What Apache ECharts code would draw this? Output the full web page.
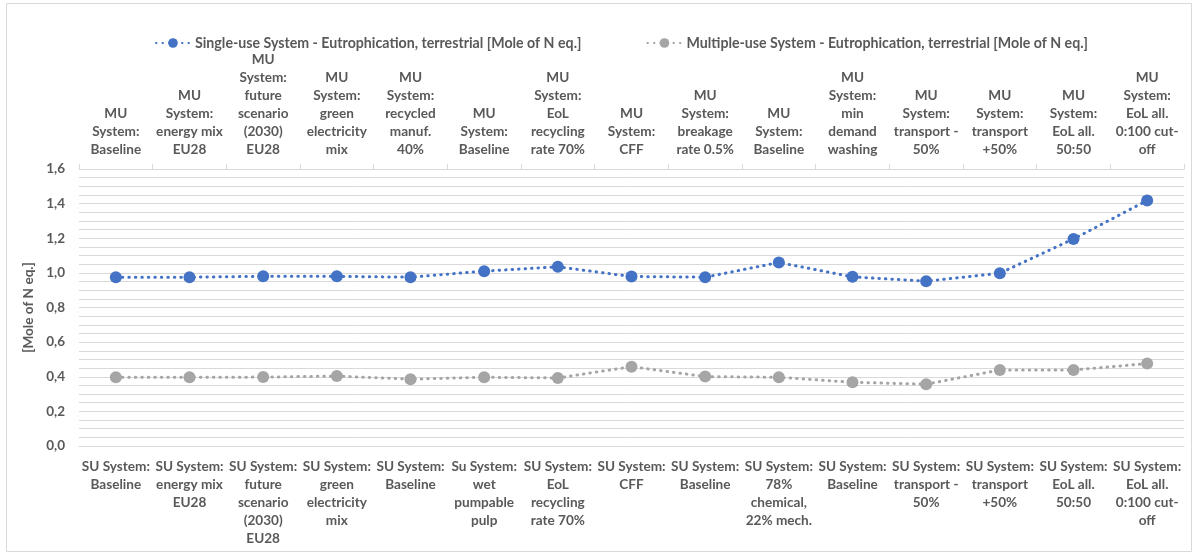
<!DOCTYPE html>
<html><head><meta charset="utf-8">
<script src="https://cdn.jsdelivr.net/npm/echarts@6/dist/echarts.min.js"></script>
<style>html,body{margin:0;padding:0;background:#fff}#c{width:1198px;height:555px}</style>
</head><body><div id="c"></div>
<script>
const suLabels = [
  "SU System:\nBaseline",
  "SU System:\nenergy mix\nEU28",
  "SU System:\nfuture\nscenario\n(2030)\nEU28",
  "SU System:\ngreen\nelectricity\nmix",
  "SU System:\nBaseline",
  "Su System:\nwet\npumpable\npulp",
  "SU System:\nEoL\nrecycling\nrate 70%",
  "SU System:\nCFF",
  "SU System:\nBaseline",
  "SU System:\n78%\nchemical,\n22% mech.",
  "SU System:\nBaseline",
  "SU System:\ntransport -\n50%",
  "SU System:\ntransport\n+50%",
  "SU System:\nEoL all.\n50:50",
  "SU System:\nEoL all.\n0:100 cut-\noff"
];
const muLabels = [
  "MU\nSystem:\nBaseline",
  "MU\nSystem:\nenergy mix\nEU28",
  "MU\nSystem:\nfuture\nscenario\n(2030)\nEU28",
  "MU\nSystem:\ngreen\nelectricity\nmix",
  "MU\nSystem:\nrecycled\nmanuf.\n40%",
  "MU\nSystem:\nBaseline",
  "MU\nSystem:\nEoL\nrecycling\nrate 70%",
  "MU\nSystem:\nCFF",
  "MU\nSystem:\nbreakage\nrate 0.5%",
  "MU\nSystem:\nBaseline",
  "MU\nSystem:\nmin\ndemand\nwashing",
  "MU\nSystem:\ntransport -\n50%",
  "MU\nSystem:\ntransport\n+50%",
  "MU\nSystem:\nEoL all.\n50:50",
  "MU\nSystem:\nEoL all.\n0:100 cut-\noff"
];
const singleUse = [0.975, 0.975, 0.980, 0.980, 0.975, 1.010, 1.035, 0.979, 0.975, 1.060, 0.977, 0.952, 0.998, 1.196, 1.418];
const multipleUse = [0.397, 0.397, 0.398, 0.404, 0.386, 0.397, 0.393, 0.458, 0.401, 0.397, 0.368, 0.357, 0.439, 0.439, 0.476];
const yTicks = [0, 0.2, 0.4, 0.6, 0.8, 1.0, 1.2, 1.4, 1.6];

const FONT = "Lato";
const TXT = "#595959";
const GRID = "#d9d9d9";
const chart = echarts.init(document.getElementById('c'), null, {renderer: 'canvas'});
chart.setOption({
  animation: false,
  textStyle: {fontFamily: FONT},
  graphic: [{type: 'rect', shape: {x: 6.5, y: 3.5, width: 1185, height: 548}, style: {fill: 'none', stroke: GRID, lineWidth: 1}, silent: true}],
  legend: {
    top: 31, left: 150, itemGap: 65, itemWidth: 34, itemHeight: 12,
    textStyle: {color: TXT, fontWeight: 'bold', fontSize: 14.2, fontFamily: FONT},
    data: ['Single-use System - Eutrophication, terrestrial [Mole of N eq.]', 'Multiple-use System - Eutrophication, terrestrial [Mole of N eq.]']
  },
  grid: {left: 79, right: 14, top: 169, bottom: 109},
  xAxis: [
    {type: 'category', position: 'bottom', data: suLabels, boundaryGap: true,
     axisLine: {show: true, lineStyle: {color: GRID}}, axisTick: {show: false},
     axisLabel: {interval: 0, color: TXT, fontWeight: 'bold', fontSize: 13.6, lineHeight: 18, margin: 12, fontFamily: FONT}},
    {type: 'category', position: 'top', data: muLabels, boundaryGap: true,
     axisLine: {show: true, lineStyle: {color: GRID}}, axisTick: {show: true, length: 5, lineStyle: {color: GRID}},
     axisLabel: {interval: 0, color: TXT, fontWeight: 'bold', fontSize: 13.6, lineHeight: 18, margin: 10, fontFamily: FONT}}
  ],
  yAxis: {
    type: 'value', min: 0, max: 1.6, interval: 0.2,
    name: '[Mole of N eq.]', nameLocation: 'middle', nameGap: 35, nameRotate: 90,
    nameTextStyle: {color: TXT, fontWeight: 'bold', fontSize: 13.6, fontFamily: FONT},
    axisLine: {show: false}, axisTick: {show: false},
    axisLabel: {color: TXT, fontWeight: 'bold', fontSize: 13.5, margin: 14, fontFamily: FONT,
      formatter: v => { const t = yTicks.find(x => Math.abs(x - v) < 1e-6); return (t !== undefined ? t : v).toFixed(1).replace('.', ','); }},
    splitLine: {show: true, lineStyle: {color: GRID, width: 1}},
    minorTick: {show: false, splitNumber: 4},
    minorSplitLine: {show: true, lineStyle: {color: GRID, width: 1}}
  },
  series: [
    {name: 'Single-use System - Eutrophication, terrestrial [Mole of N eq.]', type: 'line', xAxisIndex: 0, data: singleUse,
     symbol: 'circle', symbolSize: 12, itemStyle: {color: '#4472C4'},
     lineStyle: {color: '#4472C4', width: 3, type: [0.5, 6], cap: 'round'}},
    {name: 'Multiple-use System - Eutrophication, terrestrial [Mole of N eq.]', type: 'line', xAxisIndex: 0, data: multipleUse,
     symbol: 'circle', symbolSize: 12, itemStyle: {color: '#A5A5A5'},
     lineStyle: {color: '#A5A5A5', width: 3, type: [0.5, 6], cap: 'round'}}
  ]
});
</script></body></html>
